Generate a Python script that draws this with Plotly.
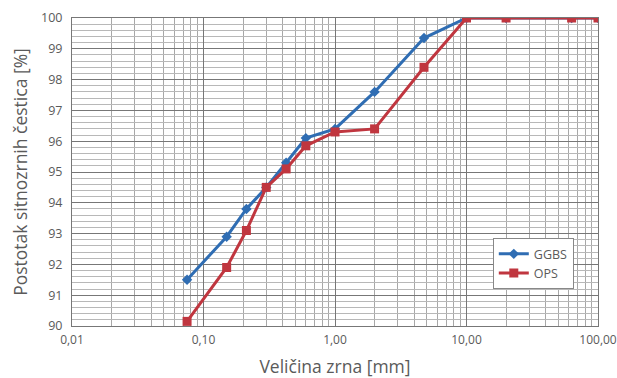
import plotly.graph_objects as go

grain_size = [0.075, 0.15, 0.212, 0.3, 0.425, 0.6, 1.0, 2.0, 4.75, 10, 20, 63, 100]
ggbs = [91.5, 92.9, 93.8, 94.5, 95.3, 96.1, 96.4, 97.6, 99.35, 100, 100, 100, 100]
ops = [90.15, 91.9, 93.1, 94.5, 95.1, 95.85, 96.3, 96.4, 98.4, 100, 100, 100, 100]

x_tickvals = [0.01, 0.1, 1, 10, 100]
x_ticktext = ["0,01", "0,10", "1,00", "10,00", "100,00"]
y_tickvals = list(range(90, 101))

FONT = "Open Sans"
TXT = "#5a5a5a"

fig = go.Figure()
fig.add_trace(go.Scatter(
    x=grain_size, y=ggbs, name="GGBS", mode="lines+markers",
    line=dict(color="#2f6db3", width=3),
    marker=dict(symbol="diamond", size=8, color="#2f6db3"),
))
fig.add_trace(go.Scatter(
    x=grain_size, y=ops, name="OPS", mode="lines+markers",
    line=dict(color="#c0363f", width=3),
    marker=dict(symbol="square", size=9, color="#c0363f"),
))

fig.update_layout(
    width=617, height=378,
    margin=dict(l=72, r=19, t=18, b=52),
    paper_bgcolor="white", plot_bgcolor="white",
    font=dict(family=FONT, size=12.5, color=TXT),
    showlegend=True,
    legend=dict(
        x=0.80, y=0.285, xanchor="left", yanchor="top",
        bgcolor="white", bordercolor="#888", borderwidth=1,
        font=dict(size=12.5, color=TXT),
        itemwidth=30, tracegroupgap=0,
    ),
)
fig.update_xaxes(
    type="log", range=[-2, 2], automargin=False,
    tickmode="array", tickvals=x_tickvals, ticktext=x_ticktext,
    ticklabeloverflow="allow", tickfont=dict(size=12),
    showgrid=True, gridcolor="#777777", gridwidth=1.2,
    minor=dict(dtick="D1", showgrid=True, gridcolor="#a8a8a8", gridwidth=1),
    showline=True, linecolor="#777777", mirror=True,
    ticks="", ticklabelstandoff=3,
    title=dict(text="Veličina zrna [mm]", font=dict(size=17.5, color=TXT), standoff=13),
    zeroline=False,
)
fig.update_yaxes(
    range=[90, 100], automargin=False,
    tickmode="array", tickvals=y_tickvals,
    showgrid=True, gridcolor="#777777", gridwidth=1.2,
    minor=dict(dtick=0.2, showgrid=True, gridcolor="#b8b8b8", gridwidth=1),
    showline=True, linecolor="#777777", mirror=True,
    ticks="", ticklabelstandoff=6,
    title=dict(text="Postotak sitnozrnih čestica [%]", font=dict(size=17.5, color=TXT), standoff=8),
    zeroline=False,
)

fig.write_html("out.html", config={"displayModeBar": False},
               post_script="document.body.style.margin='0';")
